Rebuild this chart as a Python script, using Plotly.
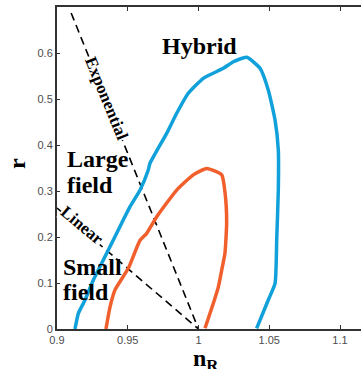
import plotly.graph_objects as go

# Outer (blue) contour in the (n_R, r) plane
blue_ns = [0.9127, 0.9151, 0.9198, 0.9257, 0.9351, 0.9433, 0.9516, 0.9587, 0.9645,
           0.9657, 0.9775, 0.9846, 0.9928, 1.0034, 1.0175, 1.0246, 1.0341, 1.0435,
           1.0493, 1.0541, 1.0564, 1.0564, 1.0553, 1.0541, 1.0493, 1.0411]
blue_r = [0.0, 0.034, 0.063, 0.1065, 0.1646, 0.2152, 0.2659, 0.3022, 0.3457,
          0.360, 0.4254, 0.469, 0.5124, 0.545, 0.5667, 0.581, 0.5907, 0.5667,
          0.5196, 0.4543, 0.389, 0.302, 0.197, 0.0993, 0.063, 0.0015]

# Inner (orange) contour
orange_ns = [0.9346, 0.9375, 0.9410, 0.9504, 0.9587, 0.9634, 0.9705, 0.9846, 0.9963,
             1.0058, 1.0164, 1.0187, 1.0199, 1.0187, 1.0164, 1.0140, 1.0105, 1.0046]
orange_r = [0.0, 0.048, 0.085, 0.132, 0.193, 0.208, 0.244, 0.302, 0.335,
            0.349, 0.335, 0.298, 0.233, 0.165, 0.128, 0.091, 0.056, 0.0015]

# Boundary lines between model classes
exp_ns = [0.91, 1.0]
exp_r = [0.687, 0.0]
lin_ns = [0.9, 1.0]
lin_r = [0.263, 0.0]

x_ticks = [0.9, 0.95, 1.0, 1.05, 1.1]
x_tick_text = ["0.9", "0.95", "1", "1.05", "1.1"]
y_ticks = [0, 0.1, 0.2, 0.3, 0.4, 0.5, 0.6]
y_tick_text = ["0", "0.1", "0.2", "0.3", "0.4", "0.5", "0.6"]

BLUE = "#10A0DA"
ORANGE = "#F05F2C"
SERIF = "Liberation Serif, Times New Roman, serif"
SANS = "Liberation Sans, Arial, sans-serif"

fig = go.Figure()
for xs, ys in [(exp_ns, exp_r), (lin_ns, lin_r)]:
    fig.add_trace(go.Scatter(x=xs, y=ys, mode="lines",
                             line=dict(color="black", width=1.6, dash="8px,5px")))
fig.add_trace(go.Scatter(x=blue_ns, y=blue_r, mode="lines",
                         line=dict(color=BLUE, width=3.5, shape="spline", smoothing=0.5)))
fig.add_trace(go.Scatter(x=orange_ns, y=orange_r, mode="lines",
                         line=dict(color=ORANGE, width=3.5, shape="spline", smoothing=0.5)))

big = dict(family=SERIF, size=24, color="black")
small = dict(family=SERIF, size=17, color="black")

def label(text, x, y, font, xanchor="left", angle=0, bg=None):
    fig.add_annotation(text="<b>%s</b>" % text, x=x, y=y, xref="x", yref="y",
                       showarrow=False, xanchor=xanchor, yanchor="middle",
                       font=font, textangle=angle,
                       bgcolor=bg if bg else "rgba(0,0,0,0)", borderpad=0)

label("Hybrid", 1.001, 0.615, big, xanchor="center")
label("Large", 0.9064, 0.3685, big)
label("field", 0.9064, 0.314, big)
label("Small", 0.9035, 0.1348, big)
label("field", 0.9033, 0.0815, big)
label("Exponential", 0.9352, 0.502, small, xanchor="center", angle=67.7, bg="white")
label("Linear", 0.9176, 0.224, small, xanchor="center", angle=40, bg="white")

# Axis titles
fig.add_annotation(text="<b>r</b>", x=-0.1316, y=0.5155, xref="paper", yref="paper",
                   showarrow=False, textangle=-90, font=big,
                   xanchor="center", yanchor="middle")
fig.add_annotation(text="<b>n<sub>R</sub></b>", x=0.49, y=-0.096, xref="paper", yref="paper",
                   showarrow=False, font=big, xanchor="center", yanchor="middle")

axis_color = "#333333"
fig.update_layout(
    width=361, height=369,
    margin=dict(l=57, r=0, t=7, b=40),
    plot_bgcolor="white", paper_bgcolor="white",
    showlegend=False,
    xaxis=dict(range=[0.9, 0.9 + 304 / 1415], tickvals=x_ticks, ticktext=x_tick_text,
               showgrid=False, zeroline=False, showline=True, linecolor=axis_color,
               linewidth=2, mirror="ticks", ticks="inside", ticklen=4,
               tickcolor=axis_color, tickfont=dict(family=SANS, size=11, color="#4d4d4d")),
    yaxis=dict(range=[0, 0.7], tickvals=y_ticks, ticktext=y_tick_text,
               showgrid=False, zeroline=False, showline=True, linecolor=axis_color,
               linewidth=2, ticks="inside", ticklen=3, tickcolor=axis_color,
               tickfont=dict(family=SANS, size=11, color="#4d4d4d")),
)

fig.write_html("out.html")
